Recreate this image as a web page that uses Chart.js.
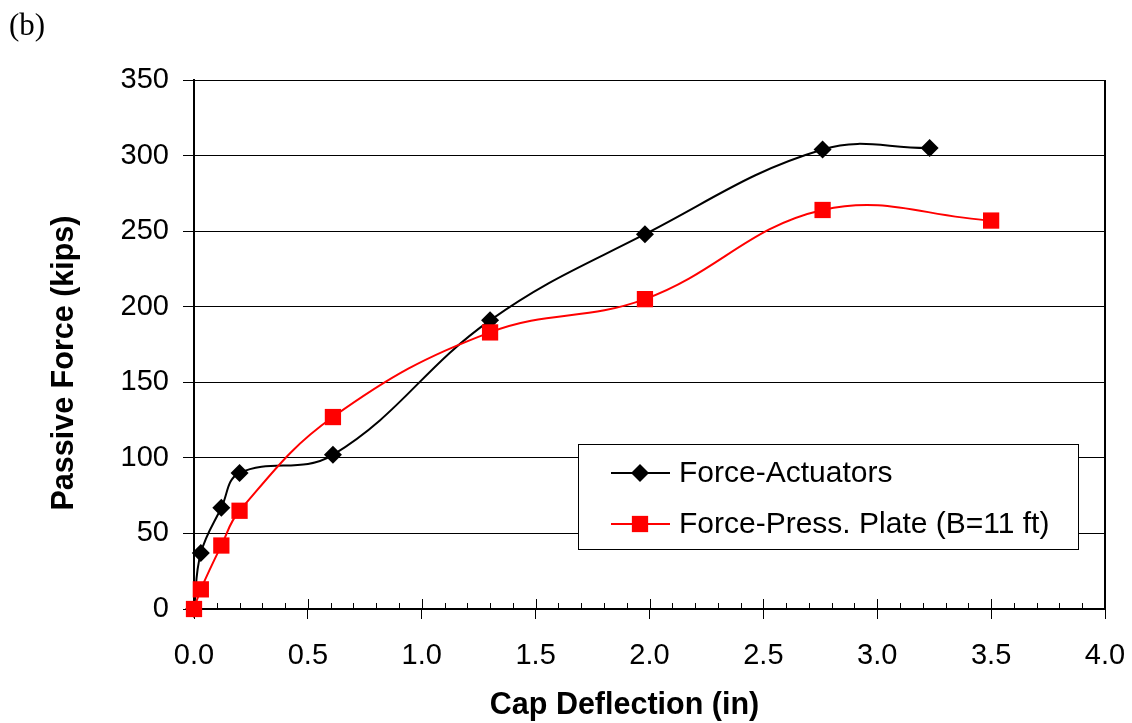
<!DOCTYPE html>
<html>
<head>
<meta charset="utf-8">
<script src="https://cdn.jsdelivr.net/npm/chart.js@4/dist/chart.umd.min.js"></script>
<style>
  html, body { margin: 0; padding: 0; background: #fff; }
  #wrap { width: 1132px; height: 723px; position: relative; }
</style>
</head>
<body>
<div id="wrap"><canvas id="c" width="1132" height="723"></canvas></div>
<script>
// ---- data ----
const seriesNames = ["Force-Actuators", "Force-Press. Plate (B=11 ft)"];
const deflActuators = [0, 0.03, 0.12, 0.20, 0.61, 1.30, 1.98, 2.76, 3.23];
const forceActuators = [0, 37, 67, 90, 102, 191, 248, 304, 305];
const deflPlate = [0, 0.03, 0.12, 0.20, 0.61, 1.30, 1.98, 2.76, 3.50];
const forcePlate = [0, 13, 42, 65, 127, 183, 205, 264, 257];
const xTicks = [0, 0.5, 1.0, 1.5, 2.0, 2.5, 3.0, 3.5, 4.0];
const yTicks = [0, 50, 100, 150, 200, 250, 300, 350];
const panelLabel = "(b)";
const xTitle = "Cap Deflection (in)";
const yTitle = "Passive Force (kips)";

const FONT = "'Liberation Sans', Arial, sans-serif";
const toPts = (xs, ys) => xs.map((x, i) => ({ x: x, y: ys[i] }));

const framePlugin = {
  id: 'frame',
  beforeDatasetsDraw(chart) {
    const { ctx, chartArea: a, scales: { x } } = chart;
    ctx.save();
    ctx.strokeStyle = '#000';
    ctx.lineWidth = 1;
    // minor / major ticks pointing inside
    for (let i = 0; i <= 40; i++) {
      const v = i / 10;
      const px = Math.round(x.getPixelForValue(v)) + 0.5;
      const len = (i % 5 === 0) ? 10 : 6;
      ctx.beginPath();
      ctx.moveTo(px, a.bottom);
      ctx.lineTo(px, a.bottom - len);
      ctx.stroke();
    }
    // right border
    ctx.lineWidth = 2;
    ctx.beginPath();
    ctx.moveTo(a.right, a.top);
    ctx.lineTo(a.right, a.bottom);
    ctx.stroke();
    ctx.restore();
  },
  afterDraw(chart) {
    const { ctx } = chart;
    ctx.save();
    // panel label
    ctx.fillStyle = '#000';
    ctx.font = "31px 'Liberation Serif', 'Times New Roman', serif";
    ctx.textBaseline = 'middle';
    ctx.textAlign = 'left';
    ctx.fillText(panelLabel, 9, 27);

    // axis titles
    ctx.font = "bold 30.5px " + FONT;
    ctx.textAlign = 'center';
    ctx.fillText(xTitle, 624.5, 706);
    ctx.save();
    ctx.translate(65, 363);
    ctx.rotate(-Math.PI / 2);
    ctx.fillText(yTitle, 0, 0);
    ctx.restore();

    // legend
    const bx = 578.5, by = 444.5, bw = 500, bh = 105;
    ctx.fillStyle = '#fff';
    ctx.fillRect(bx, by, bw, bh);
    ctx.strokeStyle = '#000';
    ctx.lineWidth = 1;
    ctx.strokeRect(bx, by, bw, bh);
    const ds = chart.data.datasets;
    const rows = [473, 524];
    ctx.font = "30px " + FONT;
    ctx.textBaseline = 'middle';
    ctx.textAlign = 'left';
    rows.forEach((ry, i) => {
      const d = ds[i];
      ctx.strokeStyle = d.borderColor;
      ctx.lineWidth = 2;
      ctx.beginPath();
      ctx.moveTo(611, ry);
      ctx.lineTo(670, ry);
      ctx.stroke();
      ctx.fillStyle = d.pointBackgroundColor;
      const cx = 640;
      if (d.pointStyle === 'rectRot') {
        const r = d.pointRadius;
        ctx.beginPath();
        ctx.moveTo(cx, ry - r);
        ctx.lineTo(cx + r, ry);
        ctx.lineTo(cx, ry + r);
        ctx.lineTo(cx - r, ry);
        ctx.closePath();
        ctx.fill();
      } else {
        const h = d.pointRadius * Math.SQRT1_2;
        ctx.fillRect(cx - h, ry - h, 2 * h, 2 * h);
      }
      ctx.fillStyle = '#000';
      ctx.fillText(d.label, 679, ry + 1);
    });
    ctx.restore();
  }
};

new Chart(document.getElementById('c'), {
  type: 'scatter',
  data: {
    datasets: [
      {
        label: seriesNames[0],
        data: toPts(deflActuators, forceActuators),
        showLine: true,
        tension: 0.4,
        clip: false,
        borderColor: '#000',
        borderWidth: 2,
        pointStyle: 'rectRot',
        pointRadius: 9,
        pointBackgroundColor: '#000',
        pointBorderColor: '#000',
        pointBorderWidth: 0,
        order: 1
      },
      {
        label: seriesNames[1],
        data: toPts(deflPlate, forcePlate),
        showLine: true,
        tension: 0.4,
        clip: false,
        borderColor: '#ff0000',
        borderWidth: 2,
        pointStyle: 'rect',
        pointRadius: 11.5,
        pointBackgroundColor: '#ff0000',
        pointBorderColor: '#ff0000',
        pointBorderWidth: 0,
        order: 0
      }
    ]
  },
  options: {
    responsive: false,
    animation: false,
    events: [],
    layout: { padding: { top: 80, right: 27, left: 0, bottom: 0 } },
    plugins: { legend: { display: false }, tooltip: { enabled: false }, title: { display: false } },
    scales: {
      x: {
        type: 'linear',
        min: 0, max: 4,
        afterBuildTicks: s => { s.ticks = xTicks.map(v => ({ value: v })); },
        afterFit: s => { s.height = 114; s.paddingRight = 0; s.paddingLeft = 0; },
        ticks: {
          color: '#000',
          font: { family: FONT, size: 29 },
          padding: 20,
          maxRotation: 0,
          autoSkip: false,
          callback: v => Number(v).toFixed(1)
        },
        grid: { drawOnChartArea: false, drawTicks: true, tickLength: 10, color: '#000', lineWidth: 1 },
        border: { display: true, color: '#000', width: 2 },
        title: { display: false }
      },
      y: {
        type: 'linear',
        min: 0, max: 350,
        afterBuildTicks: s => { s.ticks = yTicks.map(v => ({ value: v })); },
        afterFit: s => { s.width = 194; },
        ticks: {
          color: '#000',
          font: { family: FONT, size: 29 },
          padding: 14,
          autoSkip: false
        },
        grid: { drawOnChartArea: true, drawTicks: true, tickLength: 11, color: '#000', lineWidth: 1 },
        border: { display: true, color: '#000', width: 2 },
        title: { display: false }
      }
    }
  },
  plugins: [framePlugin]
});
</script>
</body>
</html>
